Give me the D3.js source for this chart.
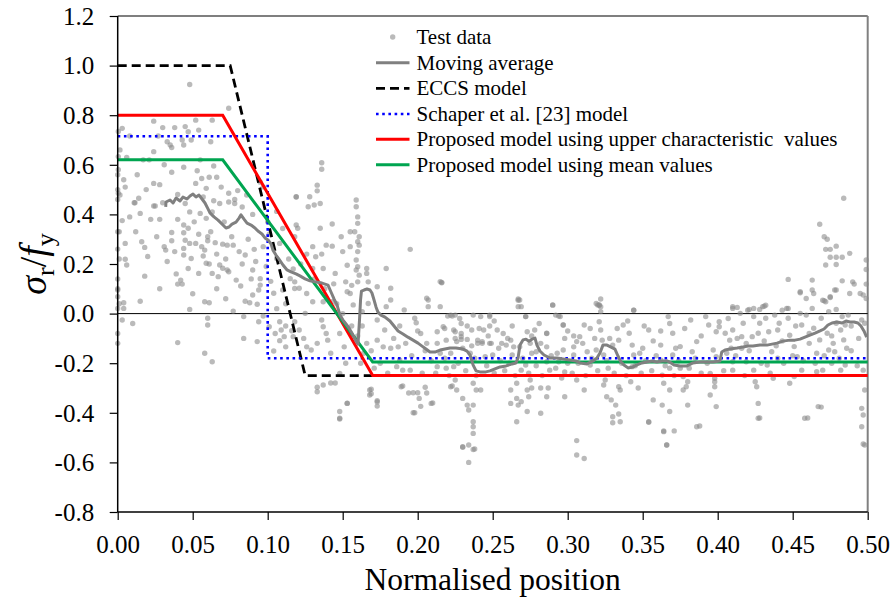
<!DOCTYPE html>
<html>
<head>
<meta charset="utf-8">
<script src="https://cdn.jsdelivr.net/npm/d3@7"></script>
<style>
  body { margin: 0; background: #fff; }
  svg { display: block; }
  svg text { font-family: "Liberation Serif", "Times New Roman", serif !important; fill: #000; }
</style>
</head>
<body>
<svg id="chart" width="895" height="603"></svg>
<script>
// ---- axis ticks ----
const xTicks = [0, 0.05, 0.10, 0.15, 0.20, 0.25, 0.30, 0.35, 0.40, 0.45, 0.50];
const yTicks = [-0.8, -0.6, -0.4, -0.2, 0.0, 0.2, 0.4, 0.6, 0.8, 1.0, 1.2];

// ---- design models (normalised position, sigma_r / f_y) ----
const eccsModel    = [[0, 1.0], [0.075, 1.0], [0.125, -0.25], [0.5, -0.25]];
const schaperModel = [[0, 0.715], [0.1, 0.715], [0.1, -0.18], [0.5, -0.18]];
const upperModel   = [[0, 0.8], [0.07, 0.8], [0.17, -0.25], [0.5, -0.25]];
const meanModel    = [[0, 0.62], [0.07, 0.62], [0.17, -0.195], [0.5, -0.195]];

// ---- moving average of the measurements ----
const movingAvgX = [0.0320,0.0322,0.0349,0.0369,0.0389,0.0415,0.0435,0.0462,0.0482,0.0502,0.0522,0.0542,0.0562,0.0582,0.0602,0.0615,0.0642,0.0669,0.0695,0.0722,
  0.0742,0.0762,0.0789,0.0809,0.0822,0.0842,0.0862,0.0889,0.0915,0.0935,0.0962,0.0982,0.1002,0.1022,0.1035,0.1055,0.1075,0.1102,0.1129,0.1155,
  0.1189,0.1215,0.1249,0.1282,0.1322,0.1362,0.1402,0.1422,0.1442,0.1462,0.1482,0.1502,0.1522,0.1542,0.1562,0.1575,0.1589,0.1602,0.1612,0.1619,
  0.1625,0.1642,0.1662,0.1682,0.1695,0.1709,0.1722,0.1735,0.1755,0.1782,0.1815,0.1842,0.1869,0.1902,0.1935,0.1969,0.2002,0.2029,0.2055,0.2082,
  0.2115,0.2149,0.2182,0.2215,0.2255,0.2302,0.2329,0.2349,0.2369,0.2389,0.2415,0.2455,0.2482,0.2515,0.2549,0.2589,0.2629,0.2655,0.2669,0.2682,
  0.2702,0.2722,0.2742,0.2762,0.2782,0.2795,0.2815,0.2842,0.2882,0.2929,0.2969,0.3015,0.3055,0.3082,0.3129,0.3169,0.3195,0.3215,0.3235,0.3262,
  0.3289,0.3315,0.3335,0.3355,0.3375,0.3402,0.3435,0.3462,0.3495,0.3529,0.3562,0.3595,0.3629,0.3662,0.3689,0.3709,0.3749,0.3795,0.3835,0.3882,
  0.3929,0.3969,0.4015,0.4027,0.4049,0.4082,0.4129,0.4169,0.4202,0.4235,0.4282,0.4329,0.4362,0.4395,0.4435,0.4482,0.4515,0.4549,0.4582,0.4615,
  0.4649,0.4682,0.4709,0.4735,0.4762,0.4795,0.4829,0.4855,0.4882,0.4909,0.4935,0.4955,0.4975,0.4993];
const movingAvgY = [0.430,0.450,0.458,0.446,0.466,0.454,0.470,0.462,0.474,0.482,0.470,0.478,0.462,0.446,0.422,0.406,0.390,0.377,0.361,0.345,
  0.349,0.361,0.369,0.385,0.398,0.381,0.365,0.357,0.345,0.333,0.321,0.305,0.297,0.281,0.256,0.236,0.220,0.196,0.176,0.168,
  0.160,0.152,0.140,0.132,0.127,0.123,0.115,0.087,0.059,0.035,-0.006,-0.026,-0.042,-0.058,-0.079,-0.095,-0.111,-0.123,-0.026,0.055,
  0.091,0.095,0.099,0.095,0.083,0.055,0.027,0.006,-0.006,-0.014,-0.030,-0.050,-0.070,-0.082,-0.095,-0.107,-0.119,-0.131,-0.143,-0.155,
  -0.155,-0.147,-0.143,-0.139,-0.139,-0.143,-0.151,-0.167,-0.207,-0.231,-0.235,-0.235,-0.231,-0.223,-0.215,-0.211,-0.203,-0.199,-0.179,-0.127,
  -0.106,-0.103,-0.111,-0.103,-0.099,-0.127,-0.151,-0.167,-0.179,-0.179,-0.183,-0.187,-0.191,-0.199,-0.203,-0.191,-0.179,-0.159,-0.127,-0.127,
  -0.135,-0.143,-0.171,-0.195,-0.207,-0.219,-0.215,-0.207,-0.199,-0.195,-0.191,-0.195,-0.191,-0.191,-0.199,-0.207,-0.211,-0.211,-0.199,-0.195,
  -0.195,-0.195,-0.191,-0.155,-0.147,-0.143,-0.139,-0.135,-0.131,-0.131,-0.127,-0.127,-0.123,-0.119,-0.111,-0.107,-0.107,-0.103,-0.095,-0.087,
  -0.079,-0.070,-0.062,-0.046,-0.038,-0.034,-0.038,-0.030,-0.034,-0.034,-0.038,-0.050,-0.070,-0.095];

// ---- individual test measurements [position, sigma_r/f_y] ----
const testPoints = [
  [0.048,0.924],[0.024,0.776],[0.063,0.78],[0.052,0.78],[0.074,0.828],[0.003,0.747],[0.0004,0.734],[0.030,0.75],[0.038,0.75],[0.047,0.733],
  [0.054,0.74],[0.045,0.754],[0.027,0.716],[0.049,0.70],[0.043,0.70],[0.033,0.693],[0.035,0.68],[0.036,0.67],[0.024,0.653],[0.044,0.68],
  [0.062,0.693],[0.008,0.716],[0.0015,0.66],[0.006,0.63],[0.0004,0.633],[0.017,0.62],[0.021,0.62],[0.055,0.62],[0.044,0.59],[0.031,0.60],
  [0.064,0.595],[0.053,0.576],[0.036,0.57],[0.0004,0.58],[0,0.56],[0.004,0.54],[0.056,0.545],[0.061,0.55],[0.066,0.55],[0.052,0.525],
  [0.024,0.525],[0.069,0.51],[0.059,0.505],[0.005,0.51],[0.0004,0.485],[0.0015,0.478],[0.074,0.485],[0.080,0.496],[0.078,0.46],[0.086,0.478],
  [0.095,0.53],[0.097,0.51],[0.119,0.47],[0.014,0.465],[0.011,0.447],[0.024,0.434],[0.030,0.447],[0.045,0.444],[0.068,0.444],[0.064,0.455],
  [0.074,0.45],[0.078,0.444],[0,0.50],[0,0.46],[0.001,0.33],[0,0.26],[0.001,0.22],[0,0.14],[0,0.10],[0.001,0.04],
  [0.0115,0.447],[0.015,0.404],[0.022,0.38],[0.025,0.434],[0,0.33],[0.003,0.375],[0.005,0.283],[0.018,0.267],[0.036,0.327],[0.036,0.294],
  [0.040,0.38],[0.044,0.357],[0.047,0.344],[0.044,0.326],[0.054,0.32],[0.048,0.41],[0.055,0.404],[0.059,0.384],[0.060,0.31],[0.060,0.294],
  [0.058,0.256],[0.057,0.232],[0.059,0.203],[0.052,0.283],[0.048,0.283],[0.045,0.296],[0.031,0.27],[0.032,0.256],[0.044,0.263],[0.044,0.236],
  [0.049,0.222],[0.047,0.182],[0.042,0.135],[0.040,0.119],[0.043,0.119],[0.054,0.162],[0.061,0.20],[0.063,0.162],[0.065,0.286],[0.070,0.28],
  [0.073,0.276],[0.077,0.276],[0.068,0.196],[0.073,0.176],[0.074,0.169],[0.070,0.183],[0.067,0.149],[0.079,0.135],[0.085,0.236],[0.091,0.259],
  [0.090,0.176],[0.082,0.111],[0.005,0.219],[0.006,0.196],[0.018,0.151],[0,0.095],[0,0.068],[0.004,0.044],[0.004,0.021],[0,0.021],
  [0.048,0.017],[0.058,0.048],[0.061,0.044],[0.060,-0.019],[0.060,-0.046],[0.077,0.01],[0.084,-0.012],[0.088,0.044],[0.085,0.05],[0.093,0.038],
  [0.090,0.075],[0.095,0.141],[0.095,0.115],[0.094,0.095],[0.003,-0.026],[0,-0.08],[0,-0.12],[0.040,-0.117],[0.058,-0.16],[0.063,-0.194],
  [0.084,-0.10],[0.094,-0.033],[0.093,-0.113],[0.106,0.222],[0.108,0.283],[0.115,0.141],[0.118,0.101],[0.110,0.095],[0.104,0.082],[0.108,-0.033],
  [0.101,-0.053],[0.105,-0.08],[0.109,-0.066],[0.112,-0.05],[0.111,-0.093],[0.116,-0.069],[0.117,-0.093],[0.108,-0.109],[0.104,-0.151],[0.112,-0.134],
  [0.118,-0.033],[0.106,0.412],[0.10,0.37],[0.11,0.343],
  [0.008,0.39],[0.012,0.33],[0.016,0.29],[0.02,0.23],[0.026,0.31],[0.028,0.38],[0.033,0.21],[0.038,0.25],[0.039,0.16],[0.051,0.37],
  [0.056,0.27],[0.062,0.33],[0.066,0.24],[0.071,0.37],[0.072,0.22],[0.076,0.31],[0.081,0.25],[0.083,0.20],[0.087,0.30],[0.089,0.14],
  [0.092,0.21],[0.097,0.27],[0.099,0.19],[0.102,0.13],[0.013,0.56],[0.019,0.50],[0.028,0.52],[0.040,0.48],[0.057,0.47],[0.063,0.41],
  [0.083,0.43],[0.090,0.40],[0.101,0.32],[0.114,0.22],[0.117,0.18],[0.112,0.04],[0.106,0.02],[0.097,-0.01],[0.072,0.06],[0.066,0.10],
  [0.050,0.08],[0.028,0.10],[0.015,0.05],[0.010,-0.04],
  [0.136,0.608],[0.136,0.582],[0.133,0.518],[0.133,0.495],[0.128,0.471],[0.119,0.471],[0.135,0.444],[0.131,0.438],[0.127,0.431],[0.159,0.458],
  [0.159,0.431],[0.160,0.39],[0.160,0.364],[0.158,0.33],[0.161,0.31],[0.160,0.29],[0.161,0.276],[0.160,0.25],[0.159,0.216],[0.160,0.189],
  [0.159,0.176],[0.161,0.155],[0.160,0.128],[0.166,0.182],[0.166,0.162],[0.167,0.128],[0.155,0.33],[0.155,0.27],[0.149,0.31],[0.150,0.25],
  [0.143,0.361],[0.119,0.357],[0.118,0.31],[0.120,0.344],[0.135,0.344],[0.139,0.276],[0.143,0.272],[0.136,0.24],[0.132,0.229],[0.130,0.27],
  [0.130,0.182],[0.137,0.182],[0.145,0.162],[0.153,0.195],[0.152,0.128],[0.156,0.114],[0.155,0.081],[0.179,0.182],[0.173,0.108],[0.167,0.041],
  [0.163,0.008],[0.157,0.035],[0.153,0.088],[0.143,0.048],[0.137,0.048],[0.136,-0.026],[0.137,-0.053],[0.130,0.048],[0.126,0.081],[0.121,0.102],
  [0.118,0.128],[0.125,0.001],[0.121,-0.066],[0.124,-0.10],[0.126,-0.134],[0.129,-0.147],[0.133,-0.12],[0.139,-0.08],[0.140,-0.107],[0.142,-0.16],
  [0.148,-0.08],[0.151,-0.134],[0.152,-0.20],[0.148,-0.241],[0.145,-0.28],[0.142,-0.28],[0.137,-0.288],[0.133,-0.297],[0.153,-0.362],[0.148,-0.395],
  [0.148,-0.422],[0.168,-0.308],[0.168,-0.328],[0.173,-0.351],[0.173,-0.373],[0.162,-0.20],[0.164,-0.16],[0.166,-0.12],[0.173,-0.107],[0.173,-0.026],
  [0.178,-0.066],[0.177,-0.134],[0.182,-0.14],[0.187,-0.134],[0.188,-0.187],[0.186,-0.214],[0.190,-0.228],[0.195,-0.228],[0.189,-0.295],[0.197,-0.319],
  [0.200,-0.319],[0.205,-0.297],[0.201,-0.342],[0.209,-0.362],[0.197,-0.40],[0.182,0.102],[0.182,0.055],[0.179,0.028],[0.191,0.015],[0.195,0.259],
  [0.198,-0.019],[0.199,-0.037],[0.207,0.055],[0.216,0.124],[0.202,-0.08],[0.206,-0.12],[0.213,-0.073],[0.213,-0.12],[0.215,-0.16],[0.217,-0.053],
  [0.220,-0.01],[0.223,-0.01],[0.224,-0.066],[0.225,-0.10],[0.222,-0.16],[0.219,-0.22],[0.225,-0.268],[0.226,-0.308],[0.213,-0.214],[0.148,-0.425],
  [0.122,0.20],[0.126,0.24],[0.131,0.14],[0.138,0.10],[0.144,0.12],[0.146,0.04],[0.150,0.0],[0.156,-0.05],[0.160,-0.09],[0.163,-0.05],
  [0.169,-0.15],[0.171,-0.22],[0.175,-0.20],[0.180,-0.24],[0.184,-0.10],[0.188,-0.05],[0.192,-0.12],[0.196,-0.17],[0.200,-0.07],[0.203,-0.24],
  [0.267,0.054],[0.269,0.028],[0.272,-0.012],[0.290,0.035],[0.295,-0.012],[0.297,-0.046],[0.286,-0.08],[0.304,-0.09],[0.242,-0.012],[0.248,-0.012],
  [0.237,-0.006],[0.241,-0.06],[0.247,-0.09],[0.240,-0.107],[0.229,-0.08],[0.229,-0.104],[0.233,-0.104],[0.236,-0.13],[0.243,-0.12],[0.248,-0.12],
  [0.254,-0.14],[0.262,-0.107],[0.264,-0.134],[0.268,-0.134],[0.253,-0.066],[0.279,-0.154],[0.286,-0.134],[0.297,-0.147],[0.304,-0.134],[0.229,-0.04],
  [0.215,0.028],[0.215,0.129],[0.206,0.062],[0.207,0.028],[0.216,0.126],[0.267,0.059],[0.322,0.059],
  [0.218,-0.06],[0.225,-0.006],[0.222,-0.006],[0.229,-0.093],[0.225,-0.073],[0.219,-0.107],[0.226,-0.113],[0.230,-0.14],[0.236,-0.066],[0.240,-0.12],
  [0.244,-0.066],[0.248,-0.05],[0.249,-0.12],[0.243,-0.113],[0.238,-0.18],[0.245,-0.174],[0.250,-0.167],[0.224,-0.214],[0.222,-0.295],[0.230,-0.342],
  [0.233,-0.369],[0.234,-0.389],[0.237,-0.369],[0.237,-0.281],[0.239,-0.308],[0.242,-0.308],[0.237,-0.436],[0.237,-0.456],[0.237,-0.483],[0.230,-0.537],
  [0.234,-0.53],[0.237,-0.548],[0.234,-0.60],[0.256,-0.12],[0.259,-0.127],[0.260,-0.10],[0.263,-0.167],[0.262,-0.308],[0.262,-0.362],[0.266,-0.342],
  [0.267,-0.369],[0.266,-0.436],[0.269,-0.355],[0.273,-0.308],[0.274,-0.335],[0.276,-0.30],[0.282,-0.30],[0.282,-0.402],[0.273,-0.395],[0.275,-0.268],
  [0.269,-0.228],[0.266,-0.281],[0.272,-0.207],[0.276,-0.16],[0.286,-0.194],[0.288,-0.228],[0.287,-0.30],[0.286,-0.335],[0.267,0.028],[0.268,0.055],
  [0.272,-0.012],[0.273,-0.073],[0.278,-0.066],[0.275,-0.12],[0.282,-0.12],[0.286,-0.079],[0.290,0.034],[0.294,-0.01],[0.297,-0.046],[0.298,-0.10],
  [0.298,-0.235],[0.293,-0.16],[0.294,-0.194],[0.298,-0.335],[0.306,-0.268],[0.306,-0.512],[0.306,-0.57],[0.311,-0.584],[0.311,-0.308],[0.308,-0.093],
  [0.306,-0.113],[0.304,-0.167],[0.311,-0.046],[0.313,-0.154],[0.315,-0.207],[0.318,-0.10],[0.321,0.034],[0.322,0.008],[0.321,-0.033],[0.322,-0.066],
  [0.323,-0.107],[0.319,-0.147],[0.324,-0.167],[0.327,-0.22],[0.325,-0.268],[0.324,-0.288],[0.326,-0.335],[0.329,-0.348],[0.332,-0.369],[0.335,-0.308],
  [0.334,-0.295],[0.330,-0.416],[0.334,-0.405],[0.330,-0.44],[0.335,-0.436],[0.328,-0.10],[0.330,-0.127],[0.334,-0.107],[0.337,-0.046],[0.341,-0.079],
  [0.343,-0.127],[0.344,-0.167],[0.343,-0.214],[0.342,-0.275],[0.347,-0.30],[0.344,0.014],[0.350,-0.14],[0.348,-0.16],[0.354,-0.066],[0.354,-0.436],
  [0.357,-0.348],[0.362,-0.127],[0.362,-0.187],[0.363,-0.248],[0.364,-0.281],[0.363,-0.369],[0.364,-0.476],[0.366,-0.53],[0.368,-0.395],[0.368,-0.308],
  [0.367,-0.012],[0.368,-0.04],[0.370,-0.079],[0.372,-0.14],[0.375,-0.133],[0.370,-0.167],[0.375,-0.22],[0.368,-0.22],[0.377,-0.254],[0.380,-0.275],
  [0.379,-0.295],[0.377,-0.308],[0.380,-0.369],[0.386,-0.456],[0.383,-0.154],[0.386,-0.113],[0.382,-0.026],[0.392,-0.012],[0.394,-0.046],[0.395,-0.241],
  [0.398,-0.261],[0.395,-0.328],[0.399,-0.375],[0.398,-0.275],[0.398,-0.295],[0.401,-0.033],[0.401,-0.053],[0.399,-0.073],[0.405,-0.079],[0.406,-0.16],
  [0.410,0.021],[0.410,-0.066],[0.408,-0.107],[0.409,-0.14],[0.415,0.001],[0.417,-0.039],[0.416,-0.093],[0.416,-0.14],[0.410,-0.194],[0.410,-0.228],
  [0.419,-0.194],[0.423,-0.093],[0.424,-0.228],[0.425,-0.275],[0.426,-0.295],[0.427,-0.362],[0.427,-0.422],[0.420,0.014],[0.424,-0.012],[0.428,-0.039],
  [0.427,-0.079],[0.430,0.028],[0.432,-0.019],[0.434,-0.073],[0.436,-0.154],[0.438,-0.006],[0.440,-0.066],[0.441,-0.039],[0.443,0.014],[0.446,0.021],
  [0.447,-0.019],[0.448,-0.087],[0.451,-0.133],[0.453,-0.174],[0.455,0.001],[0.456,-0.046],[0.459,-0.006],[0.464,-0.059],[0.466,-0.16],[0.467,-0.375],
  [0.458,-0.422],[0.468,-0.106],[0.469,-0.019],[0.472,0.048],[0.474,0.008],[0.475,0.068],[0.473,-0.079],[0.474,-0.147],[0.477,-0.12],[0.478,-0.154],
  [0.479,-0.039],[0.482,-0.066],[0.483,-0.012],[0.485,-0.046],[0.484,-0.106],[0.486,-0.14],[0.487,-0.006],[0.485,-0.207],[0.482,-0.228],[0.496,-0.026],
  [0.498,-0.039],[0.497,-0.228],[0.496,-0.382],[0.497,-0.409],[0.496,-0.456],[0.498,-0.53],[0.498,-0.308],[0.466,-0.234],[0.470,-0.228],[0.456,-0.228],
  [0.451,-0.254],[0.448,-0.281],[0.437,-0.261],[0.440,-0.18],[0.433,-0.207],[0.397,-0.147],[0.399,-0.174],[0.455,0.088],[0.464,0.081],[0.470,0.054],
  [0.478,0.095],[0.488,0.081],[0.497,0.075],[0.410,0.028],[0.432,0.034],[0.319,0.041],[0.322,0.028],[0.248,-0.006],[0.292,-0.006],
  [0.205,-0.15],[0.209,-0.19],[0.212,-0.24],[0.218,-0.18],[0.221,-0.25],[0.227,-0.20],[0.232,-0.23],[0.235,-0.16],[0.239,-0.25],[0.246,-0.21],
  [0.251,-0.24],[0.255,-0.19],[0.258,-0.23],[0.261,-0.20],[0.265,-0.25],[0.270,-0.18],[0.274,-0.24],[0.279,-0.21],[0.283,-0.25],[0.289,-0.17],
  [0.292,-0.22],[0.296,-0.26],[0.300,-0.20],[0.303,-0.24],[0.307,-0.20],[0.312,-0.25],[0.316,-0.18],[0.320,-0.23],[0.326,-0.19],[0.331,-0.24],
  [0.336,-0.20],[0.339,-0.25],[0.345,-0.21],[0.349,-0.24],[0.352,-0.19],[0.356,-0.23],[0.359,-0.17],[0.365,-0.21],[0.371,-0.25],[0.374,-0.19],
  [0.381,-0.22],[0.385,-0.18],[0.389,-0.24],[0.393,-0.20],[0.404,-0.23],[0.412,-0.17],[0.418,-0.25],[0.421,-0.15],[0.429,-0.20],[0.435,-0.24],
  [0.439,-0.13],[0.444,-0.20],[0.450,-0.17],[0.457,-0.19],[0.461,-0.12],[0.465,-0.20],[0.471,-0.17],[0.476,-0.20],[0.481,-0.18],[0.489,-0.15],
  [0.493,-0.21],[0.494,-0.10],[0.489,-0.05],[0.476,-0.09],[0.461,-0.08],[0.452,-0.05],[0.443,-0.11],[0.431,-0.11],[0.419,-0.12],[0.413,-0.10],
  [0.407,-0.02],[0.389,-0.09],[0.378,-0.06],[0.362,-0.07],[0.357,-0.11],[0.351,-0.05],[0.340,-0.03],[0.333,-0.06],[0.315,-0.06],[0.310,-0.12],
  [0.300,-0.07],[0.281,-0.04],[0.276,-0.09],[0.263,-0.05],[0.257,-0.08],[0.251,-0.03],[0.233,-0.05],[0.228,-0.02],
  [0.484,0.465],[0.468,0.36],[0.471,0.31],[0.473,0.30],[0.472,0.259],[0.475,0.259],[0.479,0.272],[0.479,0.227],[0.475,0.227],[0.483,0.227],
  [0.488,0.243],[0.472,0.196],[0.479,0.198],[0.499,0.216],[0.499,0.178],[0.499,0.119],[0.499,0.061],[0.483,0.132],[0.490,0.128],[0.491,0.119],
  [0.495,0.081],[0.479,0.095],[0.475,0.065],[0.471,0.052],[0.463,0.135],[0.463,0.095],[0.459,0.061],[0.455,0.084],[0.447,0.138],[0.463,0.021],
  [0.447,0.021],[0.479,0.017],[0.431,0.03],[0.428,0.017],[0.421,0.017],[0.424,0.021],[0.413,0.025],[0.321,0.035],[0.320,0.035],[0.344,0.014],
  [0.133,-0.315],[0.153,-0.361],[0.169,-0.305],[0.169,-0.323],[0.173,-0.356],[0.190,-0.292],[0.194,-0.32],[0.198,-0.40],[0.202,-0.374],[0.206,-0.32],
  [0.210,-0.36],[0.223,-0.292],[0.230,-0.539],[0.238,-0.546],[0.366,-0.53],[0.497,-0.526],[0.460,-0.421],[0.388,-0.453],[0.354,-0.438],[0.364,-0.473],
  [0.371,-0.473],[0.428,-0.421],[0.469,-0.377]
];

// ---- legend ----
const legendLabels = ["Test data", "Moving average", "ECCS model", "Schaper et al. [23] model",
  "Proposed model using upper characteristic  values", "Proposed model using mean values"];

const FONT = '"Liberation Serif", "Times New Roman", serif';
const svg = d3.select("#chart");
const x = d3.scaleLinear().domain([0, 0.5]).range([117.7, 867.7]);
const y = d3.scaleLinear().domain([-0.8, 1.2]).range([512, 16]);

// frame: top border and right border
svg.append("line").attr("x1", x(0)).attr("x2", x(0.5)).attr("y1", y(1.2)).attr("y2", y(1.2))
  .attr("stroke", "#000").attr("stroke-width", 1.2);
svg.append("line").attr("x1", x(0.5)).attr("x2", x(0.5)).attr("y1", y(1.2)).attr("y2", y(-0.8))
  .attr("stroke", "#808080").attr("stroke-width", 2);

// zero reference line
svg.append("line").attr("x1", x(0)).attr("x2", x(0.5)).attr("y1", y(0)).attr("y2", y(0))
  .attr("stroke", "#000").attr("stroke-width", 1);

// test data scatter
svg.append("g").selectAll("circle").data(testPoints).join("circle")
  .attr("cx", d => x(d[0])).attr("cy", d => y(d[1])).attr("r", 2.7)
  .attr("fill", "#8c8c8c").attr("fill-opacity", 0.6);

const line = d3.line().x(d => x(d[0])).y(d => y(d[1]));
const models = [
  {data: eccsModel, color: "#000", width: 2.8, dash: "9,5"},
  {data: schaperModel, color: "#0000ff", width: 2.6, dash: "2.6,3.6"},
  {data: upperModel, color: "#ff0000", width: 3, dash: null},
  {data: meanModel, color: "#00a550", width: 3, dash: null}
];
models.forEach(m => {
  svg.append("path").attr("d", line(m.data)).attr("fill", "none")
    .attr("stroke", m.color).attr("stroke-width", m.width)
    .attr("stroke-dasharray", m.dash).attr("stroke-linejoin", "miter");
});

// moving average
const maData = movingAvgX.map((v, i) => [v, movingAvgY[i]]);
svg.append("path").attr("d", line(maData)).attr("fill", "none")
  .attr("stroke", "#808080").attr("stroke-width", 3).attr("stroke-linejoin", "round");

// axes (plain hyphen for negatives)
const fmt1 = d => d3.format(".1f")(d).replace("\u2212", "-");
const fmt2 = d => d3.format(".2f")(d).replace("\u2212", "-");
const yAxis = d3.axisLeft(y).tickValues(yTicks).tickSize(8).tickFormat(fmt1);
const gy = svg.append("g").attr("transform", `translate(${x(0)},0)`).call(yAxis);
const xAxis = d3.axisBottom(x).tickValues(xTicks).tickSize(8).tickFormat(fmt2);
const gx = svg.append("g").attr("transform", `translate(0,${y(-0.8)})`).call(xAxis);
[gx, gy].forEach(g => {
  g.attr("font-family", null).attr("font-size", null);
  g.select(".domain").attr("stroke", "#000").attr("stroke-width", 1.5);
  g.selectAll(".tick line").attr("stroke", "#000").attr("stroke-width", 1.2);
  g.selectAll(".tick text").style("font-family", FONT).style("font-size", "25px").attr("fill", "#000");
});
gy.select(".domain").attr("d", `M0,${y(-0.8)}V${y(1.2)}`);
gy.selectAll(".tick text").attr("x", -23.5).attr("dy", "0.33em");
gx.select(".domain").attr("d", `M${x(0)},0H${x(0.5)}`);
gx.selectAll(".tick text").attr("y", 41).attr("dy", 0);

// axis titles
svg.append("text").attr("x", (x(0) + x(0.5)) / 2).attr("y", 590)
  .attr("text-anchor", "middle").style("font-family", FONT).style("font-size", "31.5px")
  .text("Normalised position");

const yl = svg.append("text").attr("transform", "translate(46,264) rotate(-90)")
  .attr("text-anchor", "middle").style("font-family", FONT).style("font-size", "38px");
yl.append("tspan").attr("font-style", "italic").text("σ");
yl.append("tspan").style("font-size", "26px").attr("dy", 8).text("r");
yl.append("tspan").attr("dy", -8).text("/");
yl.append("tspan").attr("font-style", "italic").text("f");
yl.append("tspan").style("font-size", "26px").attr("dy", 8).text("y");

// legend
const legendRows = [37, 62.7, 88.3, 114, 139.3, 164.7];
const lg = svg.append("g");
legendLabels.forEach((label, i) => {
  const cy = legendRows[i];
  if (i === 0) {
    lg.append("circle").attr("cx", 392.7).attr("cy", cy).attr("r", 2.7)
      .attr("fill", "#8c8c8c").attr("fill-opacity", 0.6);
  } else {
    const m = i === 1 ? {color: "#808080", width: 3, dash: null} : models[i - 2];
    lg.append("line").attr("x1", 376).attr("x2", 409.5).attr("y1", cy).attr("y2", cy)
      .attr("stroke", m.color).attr("stroke-width", m.width).attr("stroke-dasharray", m.dash);
  }
  lg.append("text").attr("x", 416.5).attr("y", cy + 7).style("font-family", FONT).style("font-size", "21px")
    .style("white-space", "pre").text(label);
});
</script>
</body>
</html>
